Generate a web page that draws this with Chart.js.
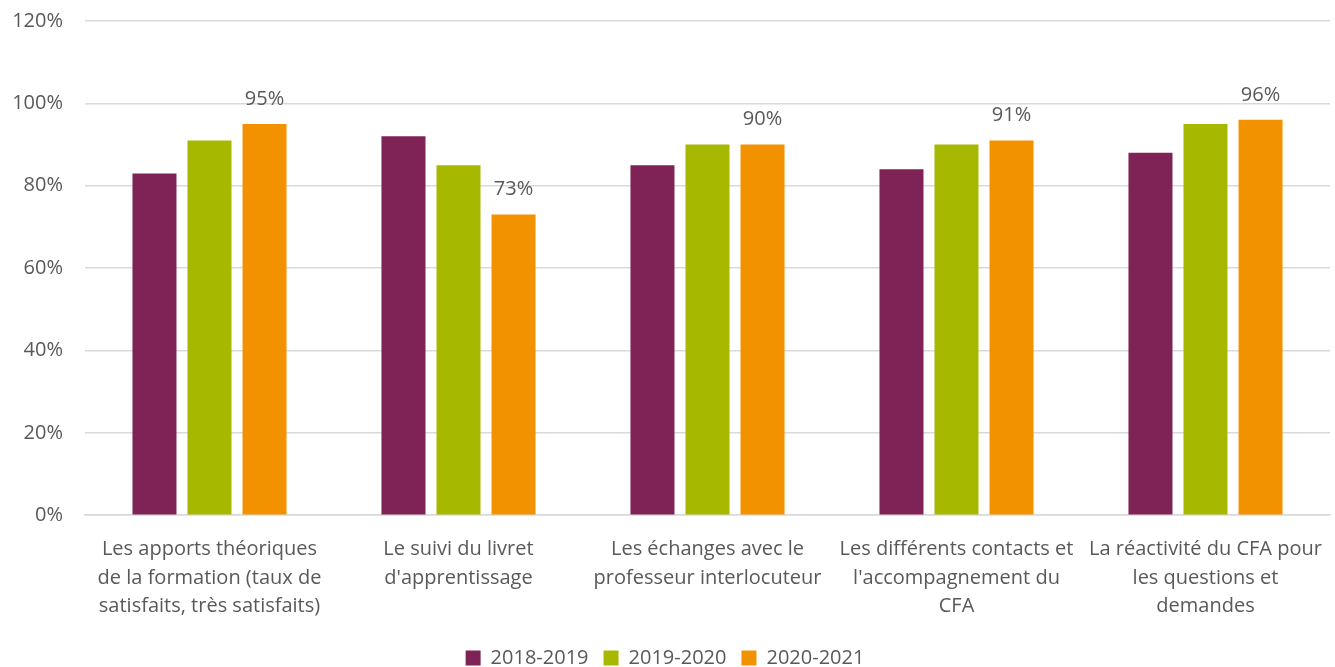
<!DOCTYPE html>
<html>
<head>
<meta charset="utf-8">
<script src="https://cdn.jsdelivr.net/npm/chart.js@4.4.1/dist/chart.umd.min.js"></script>
<style>
  html, body { margin: 0; padding: 0; background: #fff; }
  #wrap { width: 1335px; height: 667px; }
</style>
</head>
<body>
<div id="wrap"><canvas id="chart"></canvas></div>
<script>
// categories (split into lines like the original)
var categories = [
    ["Les apports théoriques", "de la formation (taux de", "satisfaits, très satisfaits)"],
    ["Le suivi du livret", "d'apprentissage"],
    ["Les échanges avec le", "professeur interlocuteur"],
    ["Les différents contacts et", "l'accompagnement du", "CFA"],
    ["La réactivité du CFA pour", "les questions et", "demandes"]
];
var seriesNames = ["2018-2019", "2019-2020", "2020-2021"];
var values2018 = [0.83, 0.92, 0.85, 0.84, 0.88];
var values2019 = [0.91, 0.85, 0.90, 0.90, 0.95];
var values2020 = [0.95, 0.73, 0.90, 0.91, 0.96];
var colors = ['#7F2357', '#A6B800', '#F39200'];

var textColor = '#595959';
var fontFamily = "'Open Sans', 'Liberation Sans', sans-serif";

// labels only on the last series
var valueLabels = {
    id: 'valueLabels',
    afterDatasetsDraw: function(chart) {
        var ctx = chart.ctx;
        var meta = chart.getDatasetMeta(2);
        ctx.save();
        ctx.font = '20px ' + fontFamily;
        ctx.fillStyle = textColor;
        ctx.textAlign = 'center';
        ctx.textBaseline = 'middle';
        meta.data.forEach(function(bar, i) {
            ctx.fillText(Math.round(values2020[i] * 100) + '%', bar.x, bar.y - 25);
        });
        ctx.restore();
    }
};

var ctx = document.getElementById('chart').getContext('2d');
var chart = new Chart(ctx, {
    type: 'bar',
    data: {
        labels: categories,
        datasets: [
            { label: seriesNames[0], data: values2018, backgroundColor: colors[0] },
            { label: seriesNames[1], data: values2019, backgroundColor: colors[1] },
            { label: seriesNames[2], data: values2020, backgroundColor: colors[2] }
        ]
    },
    options: {
        responsive: true,
        maintainAspectRatio: false,
        animation: false,
        layout: { padding: { left: 0, right: 5, top: 21, bottom: -11 } },
        datasets: {
            bar: { categoryPercentage: 0.663, barPercentage: 0.8 }
        },
        plugins: {
            legend: {
                position: 'bottom',
                labels: {
                    color: textColor,
                    font: { size: 20, family: fontFamily },
                    boxWidth: 15,
                    boxHeight: 15,
                    padding: 15
                }
            },
            tooltip: { enabled: false }
        },
        scales: {
            x: {
                grid: { display: false },
                border: { color: '#D9D9D9', width: 1.5 },
                ticks: {
                    color: textColor,
                    font: { size: 20, family: fontFamily, lineHeight: 1.43 },
                    maxRotation: 0,
                    autoSkip: false,
                    padding: 12
                }
            },
            y: {
                min: 0,
                max: 1.2,
                afterFit: function(scale) {
                    scale.width = 85;
                    scale.paddingTop = 0;
                    scale.paddingBottom = 0;
                },
                grid: { color: '#D9D9D9', lineWidth: 1.5, drawTicks: false },
                border: { display: false },
                ticks: {
                    stepSize: 0.2,
                    color: textColor,
                    font: { size: 20, family: fontFamily },
                    padding: 22,
                    callback: function(v) { return Math.round(v * 100) + '%'; }
                }
            }
        }
    },
    plugins: [valueLabels]
});
</script>
</body>
</html>
